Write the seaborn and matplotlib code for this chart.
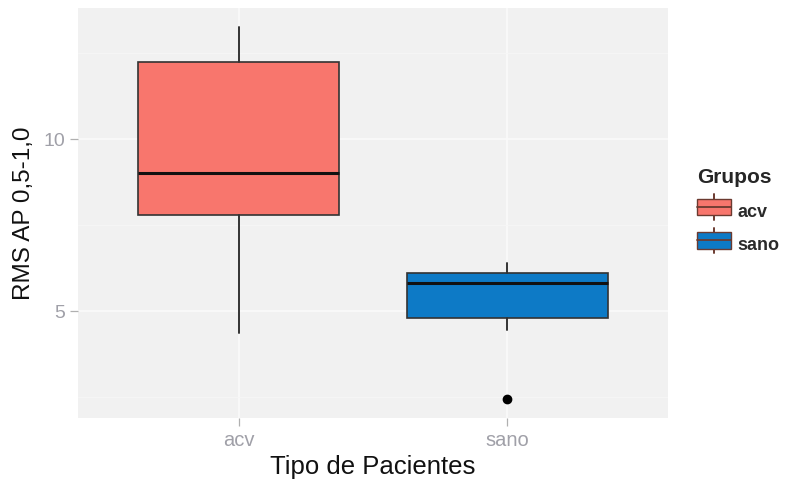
import matplotlib
matplotlib.use("Agg")
import matplotlib.pyplot as plt
import seaborn as sns
from matplotlib.patches import Rectangle, Patch
from matplotlib.lines import Line2D
from matplotlib.legend_handler import HandlerBase
from matplotlib.ticker import MultipleLocator

# Five-number summaries per patient group
groups = ["acv", "sano"]
whisker_low = [4.36, 4.44]
q1 = [7.78, 4.80]
medians = [9.00, 5.82]
q3 = [12.25, 6.11]
whisker_high = [13.27, 6.40]
outliers = [[], [2.43]]
fill_colors = ["#F8766D", "#0D7AC6"]

sns.set_theme(style="darkgrid", rc={
    "axes.facecolor": "#F1F1F1",
    "grid.color": "#F9F9F9",
    "axes.edgecolor": "#F1F1F1",
})
plt.rcParams["font.family"] = ["Liberation Sans", "DejaVu Sans"]

fig = plt.figure(figsize=(7.89, 4.80), dpi=100)
ax = fig.add_axes([78 / 789, 62 / 480, 590 / 789, 410 / 480])

stats = []
for i, g in enumerate(groups):
    stats.append(dict(label=g, whislo=whisker_low[i], q1=q1[i], med=medians[i],
                      q3=q3[i], whishi=whisker_high[i], fliers=outliers[i]))

bp = ax.bxp(stats, positions=range(len(groups)), widths=0.75, patch_artist=True,
            showcaps=False,
            boxprops=dict(edgecolor="#333333", linewidth=1.2),
            medianprops=dict(color="#111111", linewidth=2.2),
            whiskerprops=dict(color="#333333", linewidth=1.4),
            flierprops=dict(marker="o", markerfacecolor="black", markeredgecolor="black",
                            markersize=6))
for patch, c in zip(bp["boxes"], fill_colors):
    patch.set_facecolor(c)
    patch.set_zorder(3)
for key in ("medians", "whiskers", "fliers"):
    for art in bp[key]:
        art.set_zorder(4)

ax.set_xlim(-0.6, 1.6)
ax.set_ylim(1.89, 13.81)
ax.set_xticks(range(len(groups)))
ax.set_xticklabels(groups)
ax.yaxis.set_major_locator(MultipleLocator(5))
ax.yaxis.set_minor_locator(MultipleLocator(2.5))
ax.grid(True, which="major", color="#FAFAFA", linewidth=1.2)
ax.grid(True, which="minor", axis="y", color="#F6F6F6", linewidth=0.6)
ax.set_axisbelow(True)
for s in ax.spines.values():
    s.set_visible(False)

ax.tick_params(axis="both", which="major", length=6, width=0.9, color="#B0B0B0",
               labelcolor="#A0A0A8", pad=3, bottom=True, left=True)
ax.tick_params(axis="x", labelsize=14.5)
ax.tick_params(axis="y", labelsize=14)
ax.tick_params(axis="both", which="minor", length=0)

ax.set_xlabel("Tipo de Pacientes", fontsize=18.5, color="#111111", labelpad=4)
ax.set_ylabel("RMS AP 0,5-1,0", fontsize=17.5, color="#111111", labelpad=6)


class BoxKeyHandler(HandlerBase):
    def create_artists(self, legend, orig_handle, xd, yd, w, h, fontsize, trans):
        color = orig_handle.get_facecolor()
        cx = xd + w / 2
        vline = Line2D([cx, cx], [yd - 0.3 * h, yd + 1.3 * h], color="#6b3a30",
                       lw=1.4, transform=trans)
        rect = Rectangle((xd, yd), w, h, facecolor=color, edgecolor="#6b3a30",
                         lw=1.0, transform=trans)
        med = Line2D([xd, xd + w], [yd + 0.5 * h] * 2, color="#6b3a30", lw=1.3,
                     transform=trans)
        return [vline, rect, med]


handles = [Patch(facecolor=c, label=g) for g, c in zip(groups, fill_colors)]
leg = fig.legend(handles=handles, title="Grupos", loc="upper left",
                 bbox_to_anchor=(690 / 789, 1 - 161 / 480), frameon=False,
                 handler_map={Patch: BoxKeyHandler()},
                 prop=dict(size=13, weight="bold"),
                 handlelength=1.85, handleheight=1.0, handletextpad=0.4,
                 labelspacing=0.85, borderaxespad=0.0, alignment="left")
leg.get_title().set_fontweight("bold")
leg.get_title().set_fontsize(15)
for t in leg.get_texts():
    t.set_color("#2a2a2a")

fig.savefig("out.png", dpi=100)
